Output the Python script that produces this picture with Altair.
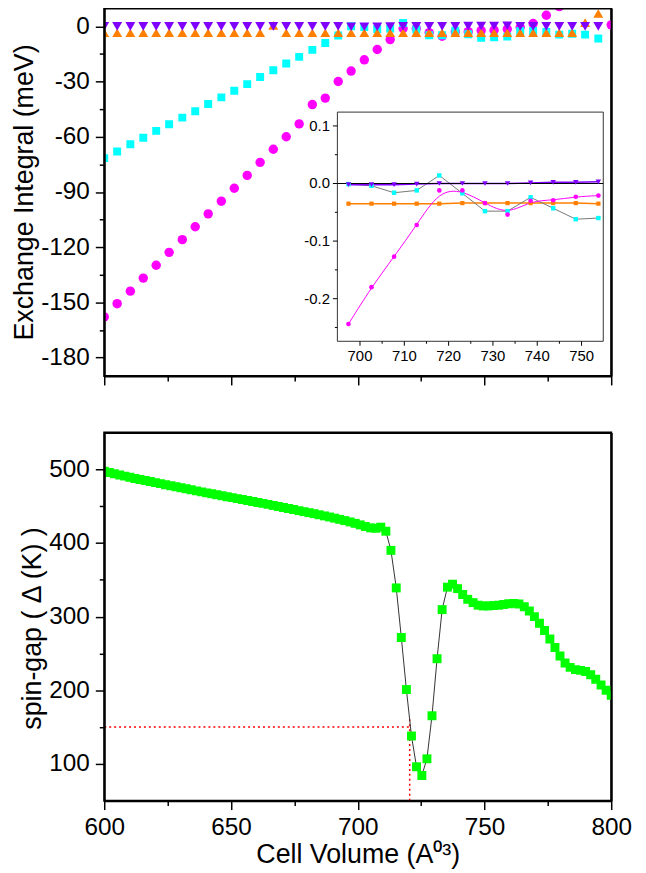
import altair as alt
import pandas as pd

# ---------------- top panel: exchange integrals (meV) ----------------
vol_j = [600.0, 605.1, 610.3, 615.4, 620.5, 625.6, 630.8, 635.9, 641.0, 646.2,
         651.3, 656.4, 661.5, 666.7, 671.8, 676.9, 682.1, 687.2, 692.3, 697.4,
         702.6, 707.7, 712.8, 717.9, 723.1, 728.2, 733.3, 738.5, 743.6, 748.7,
         753.8, 759.0, 764.1, 769.2, 774.4, 779.5, 784.6, 789.7, 794.9, 800.0]
j_magenta = [-157.9, -150.7, -143.9, -136.8, -129.8, -122.8, -115.9, -108.9, -101.9, -95.0,
             -88.0, -81.0, -73.9, -66.8, -60.0, -53.0, -42.5, -39.0, -30.0, -24.3,
             -18.2, -12.6, -7.2, -1.2, -1.2, -3.4, -5.4, -3.0, -2.9, -2.3,
             -2.1, -1.5, -0.5, 1.5, 6.0, 10.7, None, None, None, 0.8]
j_cyan = [-71.6, -68.0, -64.1, -60.5, -56.8, -53.2, -49.6, -46.1, -42.2, -38.6,
          -35.0, -31.4, -27.5, -23.9, -20.2, -16.6, -12.8, -9.1, -5.0, 0.0,
          -0.4, -1.6, -1.2, 1.8, -1.7, -4.8, -4.8, -2.4, -4.3, -6.2,
          -6.0, -5.6, -2.5, -2.5, -3.0, -4.5, -4.0, -4.5, -6.6, None]
j_orange = [-3.5, -3.5, -3.5, -3.5, -3.5, -3.5, -3.5, -3.5, -3.5, -3.5,
            -3.5, -3.5, -3.5, 0.5, -3.5, -3.5, -3.5, -3.5, -3.5, -3.5,
            -3.5, -3.5, -3.5, -3.5, -3.4, -3.4, -3.4, -3.4, -3.4, -3.4,
            -3.5, -3.5, -3.5, -3.5, -3.5, -3.5, -3.5, 2.0, 7.0, None]
j_purple = [0.0, 0.0, 0.0, 0.0, 0.0, 0.0, 0.0, 0.0, 0.0, 0.0,
            0.0, 0.0, 0.0, 0.0, 0.0, 0.0, 0.0, 0.0, 0.0, -0.2,
            -0.2, -0.2, -0.1, 0.0, 0.0, 0.0, 0.0, 0.0, 0.1, 0.2,
            0.2, 0.3, 0.0, 0.0, 0.0, 0.0, 0.0, 0.0, 0.0, None]

# ---------------- inset ----------------
in_vol = [697.4, 702.6, 707.7, 712.8, 717.9, 723.1, 728.2, 733.3, 738.5, 743.6, 748.7, 753.8]
in_magenta = [-0.244, -0.180, -0.127, -0.072, -0.012, -0.012, -0.034, -0.054, -0.030, -0.029, -0.023, -0.021]
in_cyan = [-0.001, -0.004, -0.016, -0.012, 0.014, -0.017, -0.048, -0.048, -0.024, -0.043, -0.062, -0.060]
in_orange = [-0.035, -0.035, -0.035, -0.035, -0.035, -0.034, -0.034, -0.034, -0.034, -0.034, -0.034, -0.035]
in_purple = [-0.002, -0.002, -0.002, -0.001, 0.000, 0.000, 0.000, 0.000, 0.001, 0.002, 0.002, 0.003]

# ---------------- bottom panel: spin gap (K) ----------------
vol_gap = [600.0, 602.0, 604.0, 606.1, 608.1, 610.1, 612.1, 614.1, 616.2, 618.2,
           620.2, 622.2, 624.2, 626.3, 628.3, 630.3, 632.3, 634.3, 636.4, 638.4,
           640.4, 642.4, 644.4, 646.5, 648.5, 650.5, 652.5, 654.5, 656.6, 658.6,
           660.6, 662.6, 664.6, 666.7, 668.7, 670.7, 672.7, 674.7, 676.8, 678.8,
           680.8, 682.8, 684.8, 686.9, 688.9, 690.9, 692.9, 694.9, 697.0, 699.0,
           701.0, 703.0, 705.1, 707.1, 709.1, 711.1, 713.1, 715.2, 717.2, 719.2,
           721.2, 723.2, 725.3, 727.3, 729.3, 731.3, 733.3, 735.4, 737.4, 739.4,
           741.4, 743.4, 745.5, 747.5, 749.5, 751.5, 753.5, 755.6, 757.6, 759.6,
           761.6, 763.6, 765.7, 767.7, 769.7, 771.7, 773.7, 775.8, 777.8, 779.8,
           781.8, 783.8, 785.9, 787.9, 789.9, 791.9, 793.9, 796.0, 798.0, 800.0]
spin_gap = [497.5, 495.8, 494.1, 492.4, 490.8, 489.2, 487.7, 486.2, 484.8, 483.4,
            482.0, 480.6, 479.2, 477.8, 476.4, 475.0, 473.6, 472.2, 470.8, 469.4,
            468.1, 466.8, 465.5, 464.2, 462.9, 461.6, 460.3, 459.0, 457.7, 456.4,
            455.1, 453.8, 452.4, 451.0, 449.6, 448.2, 446.8, 445.4, 444.0, 442.6,
            441.2, 439.8, 438.3, 436.8, 435.3, 433.7, 432.1, 430.4, 428.6, 426.7,
            424.6, 422.4, 420.5, 420.0, 421.5, 416.0, 390.0, 339.0, 271.6, 200.9,
            137.8, 96.0, 84.2, 106.8, 165.3, 242.8, 309.5, 340.0, 344.0, 338.0,
            330.0, 323.5, 319.0, 315.5, 314.5, 314.5, 315.0, 315.5, 316.5, 317.5,
            318.0, 317.0, 313.5, 307.5, 300.0, 291.0, 281.0, 269.5, 258.0, 246.5,
            237.0, 231.0, 228.0, 227.0, 225.5, 221.0, 215.0, 207.0, 200.0, 193.0]

ref_gap = 150
ref_vol = 720.5
ref_vline_top = 163

# ---------------- axes ----------------
x_dom = [600, 800]
yj_dom = [-190, 10]
gap_dom = [50, 550]
in_x_dom = [694.9, 754.9]
in_y_dom = [-0.274, 0.124]

x_major = [600, 650, 700, 750, 800]
x_minor = [625, 675, 725, 775]
yj_major = [-180, -150, -120, -90, -60, -30, 0]
yj_minor = [-165, -135, -105, -75, -45, -15]
gap_major = [100, 200, 300, 400, 500]
gap_minor = [150, 250, 350, 450]
in_x_major = [700, 710, 720, 730, 740, 750]
in_x_minor = [705, 715, 725, 735, 745]
in_y_major = [-0.2, -0.1, 0.0, 0.1]
in_y_minor = [-0.25, -0.15, -0.05, 0.05]

FONT = "Liberation Sans"
LAB = 24.5
TIT = 27
W, H = 511, 371

# inset box, in pixels inside the upper plot area (left, right) / (bottom, top)
IN_PX = [235, 503]
IN_PY = [336, 105]

# affine map from inset units to the upper panel's units (evaluated by Vega)
UX = (x_dom[1] - x_dom[0]) / W          # main x units per pixel
UY = (yj_dom[1] - yj_dom[0]) / H        # main y units per pixel
BX = (IN_PX[1] - IN_PX[0]) / (in_x_dom[1] - in_x_dom[0]) * UX
AX = x_dom[0] + IN_PX[0] * UX - BX * in_x_dom[0]
BY = -(IN_PY[1] - IN_PY[0]) / (in_y_dom[1] - in_y_dom[0]) * UY
AY = yj_dom[1] - UY * IN_PY[0] - BY * in_y_dom[0]


def mx(f):
    return f"{AX} + {BX} * datum.{f}"


def my(f):
    return f"{AY} + {BY} * datum.{f}"


def mk_axis(values, orient, fmt="d", tick=9, lab_size=LAB, labels=True, title=None,
            domain=True, label_pad=6, title_pad=2, title_y=None):
    kw = dict(
        values=values, orient=orient, format=fmt, labels=labels, grid=False,
        tickSize=tick, labelFlush=False, labelOverlap=False,
        labelExpr="replace(datum.label, '\u2212', '-')",
        domain=domain, domainColor="black", domainWidth=2,
        tickColor="black", tickWidth=1.5,
        labelFont=FONT, labelFontSize=lab_size, labelColor="black", labelPadding=label_pad,
        zindex=1,
    )
    if title is not None:
        kw.update(title=title, titleFont=FONT, titleFontSize=TIT, titleFontWeight="normal",
                  titleColor="black", titlePadding=title_pad)
    else:
        kw.update(title="")
    if title_y is not None:
        kw["titleY"] = title_y
    return alt.Axis(**kw)


def border_axis(orient):
    """Axis used only for its domain line: the top / right frame of a panel."""
    return alt.Axis(orient=orient, domain=True, domainColor="black", domainWidth=2,
                    ticks=False, labels=False, grid=False, title="", zindex=1)


def df_of(xs, ys):
    return pd.DataFrame({"x": xs, "y": ys}).dropna()


one = pd.DataFrame({"k": [0]})


def sc(dom):
    return alt.Scale(domain=dom, nice=False, zero=False)


def ghost(xd, yd, xaxis, yaxis):
    """Invisible mark that only carries an axis pair."""
    return alt.Chart(one).mark_point(opacity=0).encode(
        x=alt.XDatum(xd, scale=sc(x_dom), axis=xaxis),
        y=alt.YDatum(yd, axis=yaxis),
    )


# ---------- upper panel (shared scales) ----------
XS, YS = sc(x_dom), sc(yj_dom)

top_axes = alt.Chart(one).mark_point(opacity=0).encode(
    x=alt.XDatum(x_dom[0], scale=XS, axis=mk_axis(x_major, "bottom", labels=False)),
    y=alt.YDatum(yj_dom[0], scale=YS, axis=mk_axis(yj_major, "left",
                                                   title="Exchange Integral (meV)")),
)
top_minor = alt.Chart(one).mark_point(opacity=0).encode(
    x=alt.XDatum(x_dom[0], scale=XS,
                 axis=mk_axis(x_minor, "bottom", tick=5, labels=False, domain=False)),
    y=alt.YDatum(yj_dom[0], scale=YS,
                 axis=mk_axis(yj_minor, "left", tick=5, labels=False, domain=False)),
)
top_border = alt.Chart(one).mark_point(opacity=0).encode(
    x=alt.XDatum(x_dom[0], scale=XS, axis=border_axis("top")),
    y=alt.YDatum(yj_dom[0], scale=YS, axis=border_axis("right")),
)


def main_series(ys, shape, color, size):
    return alt.Chart(df_of(vol_j, ys)).mark_point(
        shape=shape, filled=True, size=size, color=color, opacity=1, clip=True
    ).encode(
        x=alt.X("x:Q", scale=XS, axis=None),
        y=alt.Y("y:Q", scale=YS, axis=None),
    )


# inset frame
in_box_df = pd.DataFrame({"ix0": [in_x_dom[0]], "ix1": [in_x_dom[1]],
                          "iy0": [in_y_dom[0]], "iy1": [in_y_dom[1]]})
inset_frame = alt.Chart(in_box_df).transform_calculate(
    a=mx("ix0"), b=mx("ix1"), c=my("iy0"), d=my("iy1")
).mark_rect(fill="white", stroke="#333333", strokeWidth=1).encode(
    x=alt.X("a:Q", scale=XS, axis=None), x2="b:Q",
    y=alt.Y("c:Q", scale=YS, axis=None), y2="d:Q",
)


def inset_ticks_y(values, length, with_labels):
    d = pd.DataFrame({"v": values, "ix": [in_x_dom[0]] * len(values)})
    base = alt.Chart(d).transform_calculate(
        ty=my("v"), tx0=mx("ix"), tx1=f"{mx('ix')} - {length * UX}",
        lab="replace(format(datum.v, '.1f'), '\u2212', '-')",
    )
    rule = base.mark_rule(color="black", strokeWidth=1).encode(
        x=alt.X("tx0:Q", scale=XS, axis=None), x2="tx1:Q",
        y=alt.Y("ty:Q", scale=YS, axis=None),
    )
    if not with_labels:
        return [rule]
    text = base.mark_text(align="right", baseline="middle", dx=-(length + 3),
                          font=FONT, fontSize=15, color="black").encode(
        x=alt.X("tx0:Q", scale=XS, axis=None),
        y=alt.Y("ty:Q", scale=YS, axis=None),
        text="lab:N",
    )
    return [rule, text]


def inset_ticks_x(values, length, with_labels):
    d = pd.DataFrame({"v": values, "iy": [in_y_dom[0]] * len(values)})
    base = alt.Chart(d).transform_calculate(
        tx=mx("v"), ty0=my("iy"), ty1=f"{my('iy')} - {length * UY}",
        lab="format(datum.v, 'd')",
    )
    rule = base.mark_rule(color="black", strokeWidth=1).encode(
        x=alt.X("tx:Q", scale=XS, axis=None),
        y=alt.Y("ty0:Q", scale=YS, axis=None), y2="ty1:Q",
    )
    if not with_labels:
        return [rule]
    text = base.mark_text(align="center", baseline="top", dy=length + 3,
                          font=FONT, fontSize=15, color="black").encode(
        x=alt.X("tx:Q", scale=XS, axis=None),
        y=alt.Y("ty0:Q", scale=YS, axis=None),
        text="lab:N",
    )
    return [rule, text]


zero_df = pd.DataFrame({"ix0": [in_x_dom[0]], "ix1": [in_x_dom[1]], "z": [0.0]})
inset_zero = alt.Chart(zero_df).transform_calculate(
    a=mx("ix0"), b=mx("ix1"), c=my("z")
).mark_rule(color="black", strokeWidth=1).encode(
    x=alt.X("a:Q", scale=XS, axis=None), x2="b:Q",
    y=alt.Y("c:Q", scale=YS, axis=None),
)


def inset_line(ys, color, width, interp="linear"):
    return alt.Chart(df_of(in_vol, ys)).transform_calculate(
        mx=mx("x"), my=my("y")
    ).mark_line(color=color, strokeWidth=width, interpolate=interp).encode(
        x=alt.X("mx:Q", scale=XS, axis=None),
        y=alt.Y("my:Q", scale=YS, axis=None),
        order="x:Q",
    )


def inset_pts(ys, shape, color, size):
    return alt.Chart(df_of(in_vol, ys)).transform_calculate(
        mx=mx("x"), my=my("y")
    ).mark_point(shape=shape, filled=True, size=size, color=color, opacity=1).encode(
        x=alt.X("mx:Q", scale=XS, axis=None),
        y=alt.Y("my:Q", scale=YS, axis=None),
    )


top = alt.layer(
    top_axes,
    top_minor,
    top_border,
    main_series(j_magenta, "circle", "#FF00FF", 90),
    main_series(j_cyan, "square", "#00FFFF", 64),
    main_series(j_orange, "triangle-up", "#FF8000", 100),
    main_series(j_purple, "triangle-down", "#8000FF", 100),
    inset_frame,
    *inset_ticks_y(in_y_major, 4.5, True),
    *inset_ticks_y(in_y_minor, 2.5, False),
    *inset_ticks_x(in_x_major, 4.5, True),
    *inset_ticks_x(in_x_minor, 2.5, False),
    inset_line(in_orange, "#FF8000", 1.5),
    inset_line(in_cyan, "#777777", 1),
    inset_line(in_magenta, "#FF00FF", 1, interp="basis"),
    inset_line(in_purple, "#8000FF", 1.5),
    inset_zero,
    inset_pts(in_orange, "square", "#FF8000", 18),
    inset_pts(in_cyan, "square", "#00FFFF", 20),
    inset_pts(in_magenta, "circle", "#FF00FF", 22),
    inset_pts(in_purple, "triangle-down", "#8000FF", 30),
).resolve_axis(x="independent", y="independent").properties(width=W, height=H)

# ---------- lower panel ----------
gap_df = df_of(vol_gap, spin_gap)
XG, YG = sc(x_dom), sc(gap_dom)

gap_axes = alt.Chart(one).mark_point(opacity=0).encode(
    x=alt.XDatum(x_dom[0], scale=XG,
                 axis=mk_axis(x_major, "bottom", title="Cell Volume (A⁰³)", title_pad=3)),
    y=alt.YDatum(gap_dom[0], scale=YG,
                 axis=mk_axis(gap_major, "left", title="spin-gap ( Δ (K) )", title_y=197)),
)
gap_minor = alt.Chart(one).mark_point(opacity=0).encode(
    x=alt.XDatum(x_dom[0], axis=mk_axis(x_minor, "bottom", tick=5, labels=False, domain=False)),
    y=alt.YDatum(gap_dom[0], axis=mk_axis(gap_minor, "left", tick=5, labels=False, domain=False)),
)
gap_border = alt.Chart(one).mark_point(opacity=0).encode(
    x=alt.XDatum(x_dom[0], axis=border_axis("top")),
    y=alt.YDatum(gap_dom[0], axis=border_axis("right")),
)
red_h = alt.Chart(one).mark_rule(color="#FF0000", strokeDash=[2, 3], strokeWidth=1.5).encode(
    x=alt.XDatum(x_dom[0], axis=None), x2=alt.X2Datum(ref_vol),
    y=alt.YDatum(ref_gap, axis=None),
)
red_v = alt.Chart(one).mark_rule(color="#FF0000", strokeDash=[2, 3], strokeWidth=1.5).encode(
    x=alt.XDatum(ref_vol, axis=None),
    y=alt.YDatum(gap_dom[0], axis=None), y2=alt.Y2Datum(ref_vline_top),
)
gap_line = alt.Chart(gap_df).mark_line(color="#333333", strokeWidth=1).encode(
    x=alt.X("x:Q", axis=None), y=alt.Y("y:Q", axis=None),
)
gap_pts = alt.Chart(gap_df).mark_point(
    shape="square", filled=True, size=81, color="#00FF00", opacity=1, clip=True
).encode(x=alt.X("x:Q", axis=None), y=alt.Y("y:Q", axis=None))

bottom = alt.layer(gap_axes, gap_minor, gap_border, red_h, red_v, gap_line, gap_pts).resolve_axis(
    x="independent", y="independent"
).properties(width=W, height=H)

chart = alt.vconcat(top, bottom, spacing=45).properties(
    padding={"left": 1, "top": -4.5, "right": 5, "bottom": 0},
    background="white",
).configure_view(stroke="black", strokeWidth=2)

chart.save("out.html", embed_options={"renderer": "svg", "actions": False})
